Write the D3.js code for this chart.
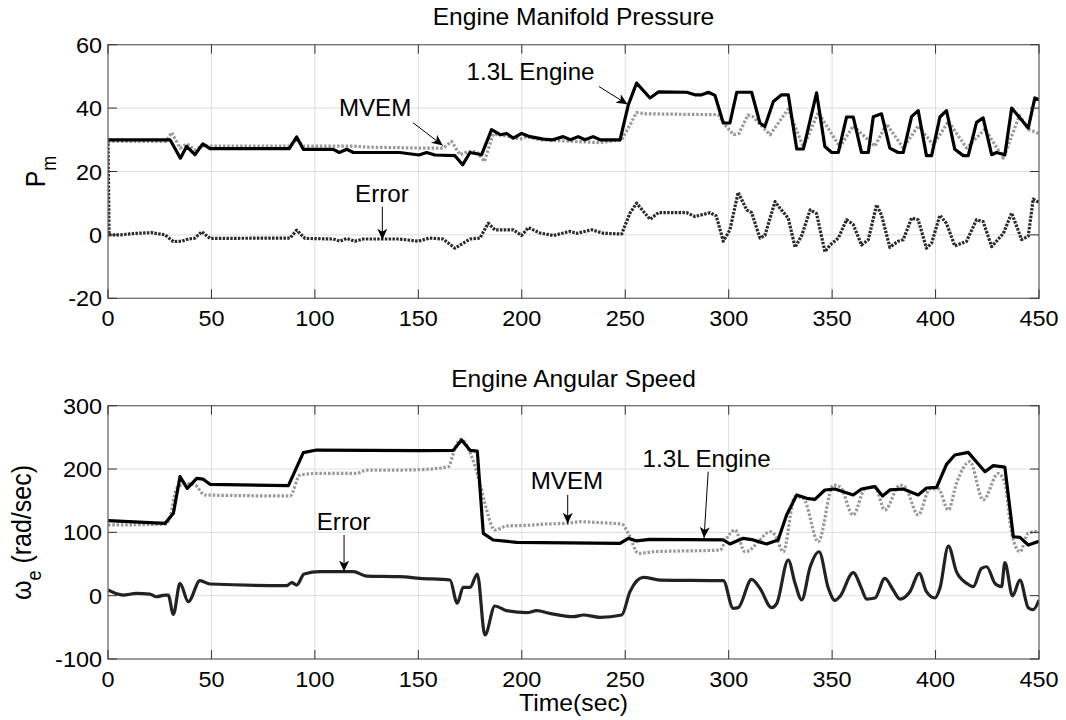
<!DOCTYPE html>
<html><head><meta charset="utf-8">
<script src="https://cdn.jsdelivr.net/npm/d3@7"></script>
<style>
html,body{margin:0;padding:0;background:#fff;}
text{font-family:"Liberation Sans",Arial,Helvetica,sans-serif;fill:#000;}
</style></head>
<body>
<svg id="chart" width="1066" height="720"></svg>
<script>
// ---------------- data ----------------
const xTicks = [0,50,100,150,200,250,300,350,400,450];
const pmTicks = [-20,0,20,40,60];
const wTicks = [-100,0,100,200,300];
const titles = ["Engine Manifold Pressure","Engine Angular Speed"];
const xLabel = "Time(sec)";

// Top panel: manifold pressure [time, value]
const pmEngine = [[0,30],[30,30],[35,24.2],[38,27.9],[42,25.3],[45.8,28.7],[49.3,27.2],[87.6,27.2],[91.2,30.9],[94.4,27],[108.9,27],[111.8,26],[115.4,27],[118.6,26],[141,26],[150.3,25.2],[154,26],[158,25.2],[167.7,25],[171.4,22.1],[175,26],[180.6,25.3],[185.4,33.2],[189.5,31.6],[192.7,32],[195.9,30.5],[199.9,32],[204,31],[210.4,30.2],[215,30],[220,31],[223.5,30],[227.3,31],[230.5,30],[234.5,31],[237.8,30],[247.5,30],[251.5,41],[255.5,47.9],[262,43.2],[266,45.1],[279.7,45],[283.7,44.2],[287,44.2],[290.2,45],[293.4,44],[297.4,35.3],[300.6,35.3],[303.9,45],[311.1,45],[315.1,35.3],[317.5,34.2],[321.6,42.1],[325.6,44.2],[328.8,44.2],[332.9,27.1],[336.1,27.1],[342.5,44.8],[346.5,27.9],[349.8,26],[353,26],[357,37.2],[360.2,37.2],[364.2,26],[367.5,26],[369.9,37.3],[373.9,38.2],[377.9,27.4],[381.9,26],[384.4,26],[388.4,37.3],[391.6,39.2],[395.6,25],[398.1,25],[402.1,37.2],[405.3,39.2],[409.3,27],[413.4,25],[415.8,25],[419.8,35.5],[423,36.9],[427.1,25.3],[429.5,26],[433.5,25.3],[436.8,40],[444.8,33.7],[448,43.2],[450,42.6]];
const pmMvem = [[0,29.5],[28,29.5],[30.8,32.3],[34.8,27.4],[38.3,28.7],[42,26.8],[45.8,28.1],[49.3,28],[87.8,28],[91.2,30.3],[94.4,28],[118.6,28],[125,27.7],[150,27.4],[162,27.4],[166.1,29.5],[170.1,25.3],[174.1,26.3],[178.2,26.3],[181.9,23.1],[186.2,31.9],[194.3,31],[199.1,30.2],[202.4,31],[208.8,30],[224.9,29.5],[237.8,29.1],[248.3,30],[252.3,34.7],[255.5,38.6],[260.4,38.2],[295,37.9],[298.6,34.4],[302.4,31.6],[305,32],[309.3,37.8],[311.7,37.3],[320,31.6],[328.8,39.7],[336.1,27.7],[343.3,38.6],[353.8,27.7],[360.2,34.4],[370.7,28],[376.3,35],[384.4,27.4],[391.6,34.4],[398.9,28.4],[406.2,35.8],[415,27.4],[423.9,33.4],[432.8,24.2],[440.6,37.7],[444.8,33.3],[450,32]];
const pmError = [[0,30],[0.5,0],[6,0],[13.5,0.5],[21,0.7],[27.6,0],[31.6,-2.1],[35.6,-2],[38.8,-1.3],[42,-1],[45.3,1],[49.3,-1.1],[88,-1],[91.2,1.5],[95.2,-1.1],[108.9,-1.3],[112.1,-2],[115.4,-1.1],[119.3,-2],[123.4,-1.3],[141,-1.3],[149.9,-2],[155.5,-1],[162,-1.3],[167.7,-4.2],[175,-1.3],[179.8,-1],[183.8,3.7],[187,1.6],[195.9,1.6],[199.9,-0.2],[203.2,2.3],[208.8,0.6],[215.2,-0.2],[223.3,1.1],[226.6,0.5],[233.8,1.6],[239.5,0.5],[248.3,0.3],[252.3,6.9],[255.5,10],[262,4.9],[266,7],[279.7,7],[283.7,5.8],[291,7],[294,6],[297.4,-2],[300.6,1.6],[304.6,13.4],[308.7,7.9],[311.1,7],[315.1,-1],[317.5,-0.2],[322.4,10.5],[324.8,8.4],[328.8,5.3],[332.1,-3.9],[335.3,-0.2],[339.4,7.9],[342.5,6.7],[346.5,-5.3],[349,-3.2],[353,-1],[357,4.8],[360.2,3.3],[364.2,-3.2],[367.5,-1.5],[371.5,9.5],[373.9,6.2],[377.9,-3.9],[381.9,-2],[384.4,-1.5],[388.4,5.3],[391.6,4.8],[395.6,-4.2],[398.1,-2.6],[402.1,6.2],[405.3,3.6],[409.3,-3.5],[415,-2],[419.8,4.8],[423,4.2],[427.1,-3.7],[432.8,0.5],[436.8,6.9],[441.6,-1.5],[444.8,-0.4],[447.2,11.3],[450,10.2]];

// Bottom panel: angular speed [time, value]
const wEngine = [[0,118.4],[27.6,114.2],[31.6,130],[34.8,187.9],[38.3,169.5],[42.9,185.3],[46,184],[49.3,175.8],[87.2,173.7],[94.4,225.8],[100.8,230],[150.8,229],[166.9,229.5],[170.9,245.8],[175,229.5],[178.5,228.4],[181.4,98.5],[186.2,87.9],[197.5,84.2],[247.5,82.6],[251.5,90.6],[255.5,86.4],[262,89],[297.4,88],[300.6,81.6],[307,90.6],[311.9,88],[318.3,81.6],[323.9,88],[328,127.4],[332.9,159],[337.7,153.7],[341.7,152],[346.5,166.9],[351.4,168.5],[356.2,163.3],[360.2,159],[364.2,168.5],[370.7,172.2],[374.4,157.5],[377.9,167],[384.4,168.5],[391.6,159],[395.6,170],[400.5,171],[405.3,207.4],[409.3,222.1],[415.8,226.3],[423.9,195.8],[427.9,205.3],[433.5,203],[437.6,93.1],[440.8,92],[444.8,80],[450,86]];
const wMvem = [[0,111.6],[27.6,113],[30,124.7],[33.2,169.5],[38,177.4],[42,175],[46.8,159],[88,157.5],[92.8,190.5],[100.8,193],[120.1,193],[125,198.4],[141,198.4],[150.8,199],[164.5,203.7],[167.7,232.6],[170.6,246.8],[175.8,219.5],[179.8,177.4],[183,135.3],[187,103.7],[192.7,110],[205.6,111.6],[210.4,113],[221.7,114.2],[228,116.8],[237.8,115.3],[248.3,113],[251.5,98.5],[256.4,66.8],[263.6,69.4],[295.8,72],[299,90.6],[303,103.7],[307.9,69.4],[310.3,72],[314.3,85.2],[320,101],[322.4,96],[326.4,69.4],[332,156.3],[336.1,153.7],[343.3,85.2],[350.6,174.7],[353.8,172],[360.2,127.4],[365.8,168.5],[370.7,172.2],[375.5,135.3],[382.8,174.7],[385.2,172],[391.6,127.4],[397.3,168.5],[401.3,168.5],[406.2,135.3],[410.1,177.4],[416.6,211.6],[423,151.1],[430.3,193],[433.5,177.4],[436.8,98.5],[440.8,69.4],[444.8,98.5],[449,101],[450,100]];
const wError = [[0,9],[7.3,1],[13.7,3.6],[20.2,2.5],[23.4,-1.7],[27.6,1],[29.1,1],[31.6,-29.5],[34.8,19.5],[38.8,-9.5],[44.5,23.7],[49.3,18.4],[86.4,15.8],[88.8,20.5],[91.2,16.8],[94.8,34.2],[102.5,37.9],[118.6,37.9],[125,31],[141,30],[150.8,27.4],[165.3,24.7],[168.8,-12],[171.7,13.2],[175,13.2],[178.5,34.2],[182.2,-62.1],[187,-16.3],[192.7,-23.7],[202.4,-26.9],[207.2,-23.7],[213.6,-27.9],[224.9,-33.2],[229.8,-30.5],[237.8,-34.2],[248.3,-30.5],[252.3,6.3],[258.8,29],[266.8,24.7],[297.4,23.7],[302.2,-20],[304.6,-18.9],[311.1,25.8],[315.1,11.6],[320.8,-18.9],[323.2,-12.6],[328.8,56.3],[332.1,19.5],[335.3,-6.8],[339.4,45.7],[343.7,69.4],[348.2,11.6],[351.4,-7.4],[353.8,-1.1],[360.2,36.3],[364.2,11.6],[366.6,-5.3],[370.7,-3.7],[375.5,27.4],[379.5,9],[382.8,-5.3],[387.6,6.3],[392.1,35.2],[395.6,6.3],[399.7,-3.7],[402.1,11.6],[406.2,78.4],[410.1,37.9],[415,19.5],[418.2,14.2],[422.2,43.1],[424.7,45.7],[428.7,19.5],[431.9,14.2],[433.5,52.1],[437.2,-0.5],[440.8,24.7],[444.8,-18.9],[447.2,-22],[450,-6.8]];

// annotations: label, text anchor [t,v], arrow from [t,v] to [t,v]
const pmNotes = [
  {label:"1.3L Engine", at:[173.3,49], from:[237.3,46.8], to:[251.1,41.2]},
  {label:"MVEM", at:[111.6,37.4], from:[147.4,35.4], to:[161.8,28.2]},
  {label:"Error", at:[119.4,10.5], from:[132.6,8.9], to:[132.6,-1.5]}
];
const wNotes = [
  {label:"Error", at:[100.9,103.7], from:[114.1,95.8], to:[114.1,38]},
  {label:"MVEM", at:[204.3,168], from:[222.2,159], to:[222.2,113.5]},
  {label:"1.3L Engine", at:[258.4,203.6], from:[290.1,195.8], to:[288.1,91]}
];

// ---------------- drawing ----------------
const svg = d3.select("#chart");
const defs = svg.append("defs");
defs.append("marker").attr("id","ah").attr("markerUnits","userSpaceOnUse")
  .attr("markerWidth",14).attr("markerHeight",12).attr("refX",11).attr("refY",5)
  .attr("orient","auto")
  .append("path").attr("d","M0,0 L11,5 L0,10 L3,5 Z").attr("fill","#000");

const x = d3.scaleLinear().domain([0,450]).range([108,1039]);

function label(g, px, py, str, size, anchor, sx){
  return g.append("text")
    .attr("transform",`translate(${px},${py}) scale(${sx},1)`)
    .attr("text-anchor",anchor||"start")
    .attr("font-size",size).text(str);
}

function panel(opts){
  const {y, yTicks, title, titleY, series, notes, id} = opts;
  const g = svg.append("g");
  const [y0,y1] = y.range();
  const x0 = x.range()[0], x1 = x.range()[1];
  defs.append("clipPath").attr("id","clip"+id).append("rect")
    .attr("x",x0).attr("y",y1).attr("width",x1-x0).attr("height",y0-y1);
  // grid
  xTicks.forEach(t=>{
    g.append("line").attr("x1",x(t)).attr("x2",x(t)).attr("y1",y0).attr("y2",y1)
      .attr("stroke","#dedede").attr("stroke-width",1);
  });
  yTicks.forEach(v=>{
    g.append("line").attr("x1",x0).attr("x2",x1).attr("y1",y(v)).attr("y2",y(v))
      .attr("stroke","#dedede").attr("stroke-width",1);
  });
  // series
  const lg = g.append("g").attr("clip-path",`url(#clip${id})`);
  series.forEach(s=>{
    const line = d3.line().x(d=>x(d[0])).y(d=>y(d[1])).curve(s.curve||d3.curveLinear);
    lg.append("path").datum(s.data).attr("d",line).attr("fill","none")
      .attr("stroke",s.color).attr("stroke-width",s.width)
      .attr("stroke-dasharray",s.dash||null).attr("stroke-linejoin","round");
  });
  // box
  g.append("rect").attr("x",x0).attr("y",y1).attr("width",x1-x0).attr("height",y0-y1)
    .attr("fill","none").attr("stroke","#666").attr("stroke-width",1.2);
  // ticks
  const TL = 9;
  xTicks.forEach(t=>{
    g.append("line").attr("x1",x(t)).attr("x2",x(t)).attr("y1",y0).attr("y2",y0-TL).attr("stroke","#333");
    g.append("line").attr("x1",x(t)).attr("x2",x(t)).attr("y1",y1).attr("y2",y1+TL).attr("stroke","#333");
    label(g, x(t), y0+28, t, 21.5, "middle", 1.09);
  });
  yTicks.forEach(v=>{
    g.append("line").attr("x1",x0).attr("x2",x0+TL).attr("y1",y(v)).attr("y2",y(v)).attr("stroke","#333");
    g.append("line").attr("x1",x1).attr("x2",x1-TL).attr("y1",y(v)).attr("y2",y(v)).attr("stroke","#333");
    label(g, 102, y(v)+8, v, 21.5, "end", 1.09);
  });
  // title
  label(g, (x0+x1)/2, titleY, title, 23, "middle", 1.07);
  // annotations
  notes.forEach(n=>{
    label(g, x(n.at[0]), y(n.at[1]), n.label, 23, "start", 1.05);
    g.append("line").attr("x1",x(n.from[0])).attr("y1",y(n.from[1]))
      .attr("x2",x(n.to[0])).attr("y2",y(n.to[1]))
      .attr("stroke","#000").attr("stroke-width",1).attr("marker-end","url(#ah)");
  });
  return g;
}

const yP = d3.scaleLinear().domain([-20,60]).range([298.3,44.7]);
const yW = d3.scaleLinear().domain([-100,300]).range([659,405.7]);

panel({id:1, y:yP, yTicks:pmTicks, title:titles[0], titleY:25,
  series:[
    {data:pmMvem, color:"#999", width:3.2, dash:"2.5,1.8"},
    {data:pmEngine, color:"#000", width:3.2},
    {data:pmError, color:"#2a2a2a", width:3.2, dash:"2.5,1.3"}
  ], notes:pmNotes});

panel({id:2, y:yW, yTicks:wTicks, title:titles[1], titleY:387,
  series:[
    {data:wMvem, color:"#999", width:3.2, dash:"2.5,1.8", curve:d3.curveMonotoneX},
    {data:wEngine, color:"#000", width:3.2},
    {data:wError, color:"#222", width:3.2, curve:d3.curveMonotoneX}
  ], notes:wNotes});

// x label
label(svg, 573.5, 711, xLabel, 24, "middle", 1.03);

// y labels
const yl1 = svg.append("text").attr("transform","translate(45,171.5) scale(1.1,1) rotate(-90)")
  .attr("text-anchor","middle").attr("font-size",25);
yl1.append("tspan").text("P");
yl1.append("tspan").attr("font-size",18).attr("dy",10).text("m");

const yl2 = svg.append("text").attr("transform","translate(31,532.5) scale(1.1,1) rotate(-90)")
  .attr("text-anchor","middle").attr("font-size",25);
yl2.append("tspan").text("ω");
yl2.append("tspan").attr("font-size",18).attr("dy",9).text("e");
yl2.append("tspan").attr("dy",-9).text(" (rad/sec)");
</script>
</body></html>
